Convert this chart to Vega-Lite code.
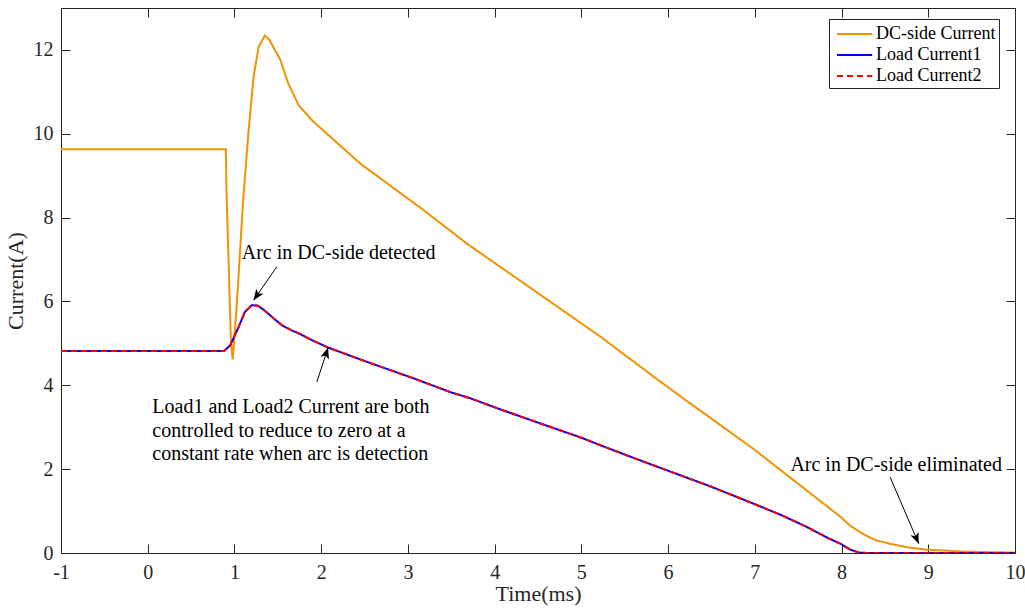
{
  "$schema": "https://vega.github.io/schema/vega-lite/v6.json",
  "width": 954,
  "height": 545,
  "autosize": {"type": "none"},
  "padding": {"left": 61, "top": 8, "right": 10, "bottom": 55},
  "background": "white",
  "config": {
    "font": "Liberation Serif",
    "view": {"stroke": "#262626", "strokeWidth": 1},
    "axis": {
      "domainColor": "#262626",
      "tickColor": "#262626",
      "labelColor": "#262626",
      "titleColor": "#262626",
      "labelFont": "Liberation Serif",
      "titleFont": "Liberation Serif",
      "labelFontSize": 20,
      "titleFontSize": 22,
      "titleFontWeight": "normal",
      "grid": false,
      "ticks": true,
      "tickSize": -9,
      "tickWidth": 1,
      "labelExpr": "'' + datum.value"
    }
  },
  "datasets": {
    "series": [
      {"t": -1, "i": 9.63, "s": "DC-side Current"},
      {"t": 0.9, "i": 9.63, "s": "DC-side Current"},
      {"t": 0.91, "i": 8.5, "s": "DC-side Current"},
      {"t": 0.96, "i": 5.0, "s": "DC-side Current"},
      {"t": 0.98, "i": 4.62, "s": "DC-side Current"},
      {"t": 1.03, "i": 6.03, "s": "DC-side Current"},
      {"t": 1.1, "i": 8.41, "s": "DC-side Current"},
      {"t": 1.16, "i": 10.0, "s": "DC-side Current"},
      {"t": 1.22, "i": 11.36, "s": "DC-side Current"},
      {"t": 1.28, "i": 12.08, "s": "DC-side Current"},
      {"t": 1.35, "i": 12.34, "s": "DC-side Current"},
      {"t": 1.4, "i": 12.25, "s": "DC-side Current"},
      {"t": 1.53, "i": 11.76, "s": "DC-side Current"},
      {"t": 1.62, "i": 11.2, "s": "DC-side Current"},
      {"t": 1.74, "i": 10.68, "s": "DC-side Current"},
      {"t": 1.91, "i": 10.29, "s": "DC-side Current"},
      {"t": 2.45, "i": 9.29, "s": "DC-side Current"},
      {"t": 3.18, "i": 8.18, "s": "DC-side Current"},
      {"t": 3.68, "i": 7.38, "s": "DC-side Current"},
      {"t": 4.45, "i": 6.27, "s": "DC-side Current"},
      {"t": 5.22, "i": 5.16, "s": "DC-side Current"},
      {"t": 5.87, "i": 4.15, "s": "DC-side Current"},
      {"t": 6.22, "i": 3.62, "s": "DC-side Current"},
      {"t": 6.98, "i": 2.49, "s": "DC-side Current"},
      {"t": 7.5, "i": 1.65, "s": "DC-side Current"},
      {"t": 7.99, "i": 0.86, "s": "DC-side Current"},
      {"t": 8.1, "i": 0.65, "s": "DC-side Current"},
      {"t": 8.25, "i": 0.45, "s": "DC-side Current"},
      {"t": 8.4, "i": 0.3, "s": "DC-side Current"},
      {"t": 8.56, "i": 0.22, "s": "DC-side Current"},
      {"t": 8.75, "i": 0.14, "s": "DC-side Current"},
      {"t": 8.98, "i": 0.08, "s": "DC-side Current"},
      {"t": 9.45, "i": 0.03, "s": "DC-side Current"},
      {"t": 10, "i": 0.01, "s": "DC-side Current"},

      {"t": -1, "i": 4.82, "s": "Load Current1"},
      {"t": 0.88, "i": 4.82, "s": "Load Current1"},
      {"t": 0.95, "i": 4.95, "s": "Load Current1"},
      {"t": 1.05, "i": 5.4, "s": "Load Current1"},
      {"t": 1.12, "i": 5.75, "s": "Load Current1"},
      {"t": 1.2, "i": 5.91, "s": "Load Current1"},
      {"t": 1.27, "i": 5.9, "s": "Load Current1"},
      {"t": 1.35, "i": 5.78, "s": "Load Current1"},
      {"t": 1.45, "i": 5.6, "s": "Load Current1"},
      {"t": 1.55, "i": 5.43, "s": "Load Current1"},
      {"t": 1.65, "i": 5.32, "s": "Load Current1"},
      {"t": 1.76, "i": 5.22, "s": "Load Current1"},
      {"t": 1.9, "i": 5.07, "s": "Load Current1"},
      {"t": 2.08, "i": 4.9, "s": "Load Current1"},
      {"t": 2.5, "i": 4.58, "s": "Load Current1"},
      {"t": 2.91, "i": 4.28, "s": "Load Current1"},
      {"t": 3.06, "i": 4.17, "s": "Load Current1"},
      {"t": 3.5, "i": 3.83, "s": "Load Current1"},
      {"t": 3.72, "i": 3.69, "s": "Load Current1"},
      {"t": 4.06, "i": 3.43, "s": "Load Current1"},
      {"t": 4.5, "i": 3.11, "s": "Load Current1"},
      {"t": 5.0, "i": 2.75, "s": "Load Current1"},
      {"t": 5.22, "i": 2.57, "s": "Load Current1"},
      {"t": 5.6, "i": 2.27, "s": "Load Current1"},
      {"t": 5.99, "i": 1.97, "s": "Load Current1"},
      {"t": 6.5, "i": 1.58, "s": "Load Current1"},
      {"t": 6.98, "i": 1.18, "s": "Load Current1"},
      {"t": 7.3, "i": 0.91, "s": "Load Current1"},
      {"t": 7.6, "i": 0.62, "s": "Load Current1"},
      {"t": 7.85, "i": 0.35, "s": "Load Current1"},
      {"t": 7.99, "i": 0.22, "s": "Load Current1"},
      {"t": 8.1, "i": 0.08, "s": "Load Current1"},
      {"t": 8.2, "i": 0.01, "s": "Load Current1"},
      {"t": 8.3, "i": 0, "s": "Load Current1"},
      {"t": 10, "i": 0, "s": "Load Current1"},

      {"t": -1, "i": 4.82, "s": "Load Current2"},
      {"t": 0.88, "i": 4.82, "s": "Load Current2"},
      {"t": 0.95, "i": 4.95, "s": "Load Current2"},
      {"t": 1.05, "i": 5.4, "s": "Load Current2"},
      {"t": 1.12, "i": 5.75, "s": "Load Current2"},
      {"t": 1.2, "i": 5.91, "s": "Load Current2"},
      {"t": 1.27, "i": 5.9, "s": "Load Current2"},
      {"t": 1.35, "i": 5.78, "s": "Load Current2"},
      {"t": 1.45, "i": 5.6, "s": "Load Current2"},
      {"t": 1.55, "i": 5.43, "s": "Load Current2"},
      {"t": 1.65, "i": 5.32, "s": "Load Current2"},
      {"t": 1.76, "i": 5.22, "s": "Load Current2"},
      {"t": 1.9, "i": 5.07, "s": "Load Current2"},
      {"t": 2.08, "i": 4.9, "s": "Load Current2"},
      {"t": 2.5, "i": 4.58, "s": "Load Current2"},
      {"t": 2.91, "i": 4.28, "s": "Load Current2"},
      {"t": 3.06, "i": 4.17, "s": "Load Current2"},
      {"t": 3.5, "i": 3.83, "s": "Load Current2"},
      {"t": 3.72, "i": 3.69, "s": "Load Current2"},
      {"t": 4.06, "i": 3.43, "s": "Load Current2"},
      {"t": 4.5, "i": 3.11, "s": "Load Current2"},
      {"t": 5.0, "i": 2.75, "s": "Load Current2"},
      {"t": 5.22, "i": 2.57, "s": "Load Current2"},
      {"t": 5.6, "i": 2.27, "s": "Load Current2"},
      {"t": 5.99, "i": 1.97, "s": "Load Current2"},
      {"t": 6.5, "i": 1.58, "s": "Load Current2"},
      {"t": 6.98, "i": 1.18, "s": "Load Current2"},
      {"t": 7.3, "i": 0.91, "s": "Load Current2"},
      {"t": 7.6, "i": 0.62, "s": "Load Current2"},
      {"t": 7.85, "i": 0.35, "s": "Load Current2"},
      {"t": 7.99, "i": 0.22, "s": "Load Current2"},
      {"t": 8.1, "i": 0.08, "s": "Load Current2"},
      {"t": 8.2, "i": 0.01, "s": "Load Current2"},
      {"t": 8.3, "i": 0, "s": "Load Current2"},
      {"t": 10, "i": 0, "s": "Load Current2"}
    ],
    "arrows": [
      {"x0": 1.49, "y0": 6.83, "x1": 1.22, "y1": 6.03, "angle": 215},
      {"x0": 1.95, "y0": 4.08, "x1": 2.08, "y1": 4.9, "angle": 18},
      {"x0": 8.56, "y0": 1.81, "x1": 8.89, "y1": 0.22, "angle": 157}
    ],
    "notes": [
      {"x": 1.084, "y": 7.01, "label": "Arc in DC-side detected"},
      {"x": 0.053, "y": 3.33, "label": "Load1 and Load2 Current are both"},
      {"x": 0.053, "y": 2.77, "label": "controlled to reduce to zero at a"},
      {"x": 0.053, "y": 2.21, "label": "constant rate when arc is detection"},
      {"x": 7.41, "y": 1.96, "label": "Arc in DC-side eliminated"}
    ]
  },
  "layer": [
    {
      "data": {"name": "series"},
      "mark": {"type": "line", "strokeWidth": 2, "clip": true},
      "encoding": {
        "x": {
          "field": "t", "type": "quantitative",
          "scale": {"domain": [-1, 10], "nice": false, "zero": false},
          "axis": {"values": [-1,0,1,2,3,4,5,6,7,8,9,10], "title": "Time(ms)", "labelPadding": 18, "titlePadding": 1, "labelFlush": false}
        },
        "y": {
          "field": "i", "type": "quantitative",
          "scale": {"domain": [0, 13], "nice": false},
          "axis": {"values": [0,2,4,6,8,10,12], "title": "Current(A)", "labelPadding": 17, "titlePadding": 6, "labelFlush": false}
        },
        "color": {
          "field": "s", "type": "nominal",
          "scale": {"domain": ["DC-side Current", "Load Current1", "Load Current2"], "range": ["#F39200", "#0000FF", "#FF0000"]},
          "legend": {
            "title": null, "orient": "none", "legendX": 768, "legendY": 11,
            "symbolType": "M-1,0L2.2,0", "symbolSize": 484, "symbolStrokeWidth": 2, "symbolOffset": 4,
            "labelFont": "Liberation Serif", "labelFontSize": 18, "labelColor": "#000000",
            "labelOffset": 16, "rowPadding": 0, "padding": 3,
            "strokeColor": "#262626", "fillColor": "white"
          }
        },
        "strokeDash": {
          "field": "s", "type": "nominal",
          "scale": {"domain": ["DC-side Current", "Load Current1", "Load Current2"], "range": [[1, 0], [1, 0], [6, 4]]},
          "legend": {
            "title": null, "orient": "none", "legendX": 768, "legendY": 11,
            "symbolType": "M-1,0L2.2,0", "symbolSize": 484, "symbolStrokeWidth": 2, "symbolOffset": 4,
            "labelFont": "Liberation Serif", "labelFontSize": 18, "labelColor": "#000000",
            "labelOffset": 16, "rowPadding": 0, "padding": 3,
            "strokeColor": "#262626", "fillColor": "white"
          }
        },
        "order": {"field": "t", "type": "quantitative"}
      }
    },
    {
      "data": {"name": "arrows"},
      "mark": {"type": "rule", "color": "black", "strokeWidth": 1},
      "encoding": {
        "x": {"field": "x0", "type": "quantitative", "axis": null},
        "y": {"field": "y0", "type": "quantitative", "axis": null},
        "x2": {"field": "x1"},
        "y2": {"field": "y1"}
      }
    },
    {
      "data": {"name": "arrows"},
      "mark": {"type": "point", "filled": true, "color": "black", "opacity": 1, "size": 484, "shape": "M0,0 L-0.4,1 L0,0.75 L0.4,1 Z"},
      "encoding": {
        "x": {"field": "x1", "type": "quantitative", "axis": null},
        "y": {"field": "y1", "type": "quantitative", "axis": null},
        "angle": {"field": "angle", "type": "quantitative", "scale": null}
      }
    },
    {
      "data": {"name": "notes"},
      "mark": {"type": "text", "align": "left", "baseline": "alphabetic", "font": "Liberation Serif", "fontSize": 20, "color": "black"},
      "encoding": {
        "x": {"field": "x", "type": "quantitative", "axis": null},
        "y": {"field": "y", "type": "quantitative", "axis": null},
        "text": {"field": "label"}
      }
    },
    {
      "data": {"name": "notes"},
      "mark": {"type": "point", "opacity": 0},
      "encoding": {
        "x": {"field": "x", "type": "quantitative", "axis": {"orient": "top", "values": [-1,0,1,2,3,4,5,6,7,8,9,10], "labels": false, "title": null}},
        "y": {"field": "y", "type": "quantitative", "axis": {"orient": "right", "values": [0,2,4,6,8,10,12], "labels": false, "title": null}}
      }
    }
  ],
  "resolve": {"axis": {"x": "independent", "y": "independent"}}
}
